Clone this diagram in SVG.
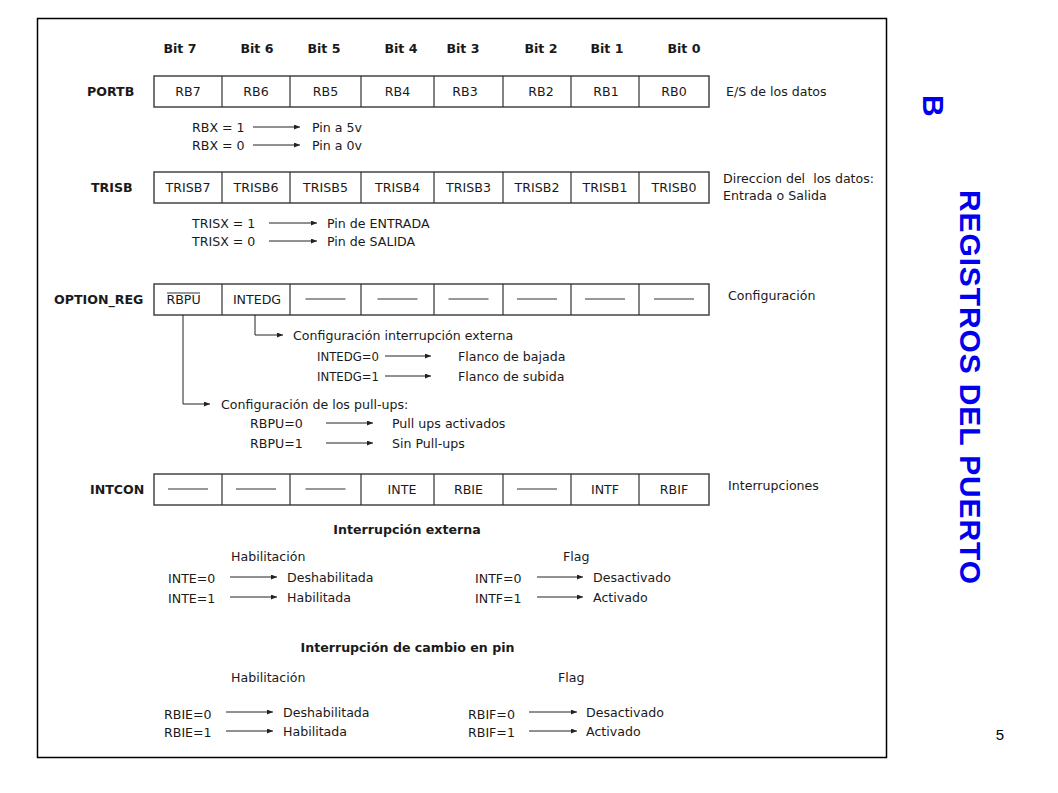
<svg xmlns="http://www.w3.org/2000/svg" width="1058" height="793" viewBox="0 0 1058 793">
<style>
text{font-family:"DejaVu Sans","Liberation Sans",sans-serif;font-size:12.6px;fill:#1a1a1a}
.b{font-weight:bold}
.c{text-anchor:middle}
.cell{fill:#fff;stroke:#444;stroke-width:1.5}
.dash{stroke:#333;stroke-width:1.2}
.arr{stroke:#222;stroke-width:1;fill:none;marker-end:url(#ah)}
.title{font-family:"Liberation Sans",Arial,sans-serif;font-weight:bold;font-size:30px;fill:#0000ee}
</style>
<defs>
<marker id="ah" markerUnits="userSpaceOnUse" markerWidth="6" markerHeight="5" refX="6" refY="2.5" orient="auto">
<path d="M0,0 L6,2.5 L0,5 z" fill="#222"/>
</marker>
</defs>
<rect width="1058" height="793" fill="#fff"/>
<rect id="frame" x="37.5" y="18.5" width="849" height="739" fill="none" stroke="#000" stroke-width="1.5"/>

<g id="bits">
<text class="b c" x="180" y="52.5">Bit 7</text>
<text class="b c" x="257" y="52.5">Bit 6</text>
<text class="b c" x="324" y="52.5">Bit 5</text>
<text class="b c" x="401" y="52.5">Bit 4</text>
<text class="b c" x="463" y="52.5">Bit 3</text>
<text class="b c" x="541" y="52.5">Bit 2</text>
<text class="b c" x="607" y="52.5">Bit 1</text>
<text class="b c" x="684" y="52.5">Bit 0</text>
</g>

<g id="portb">
<text class="b" x="87" y="96">PORTB</text>
<rect class="cell" x="154" y="76" width="555" height="31"/>
<path class="dash" d="M222,76V107M290,76V107M361,76V107M434,76V107M503,76V107M571,76V107M639,76V107"/>
<text class="c" x="188" y="96">RB7</text>
<text class="c" x="256" y="96">RB6</text>
<text class="c" x="325.5" y="96">RB5</text>
<text class="c" x="397.5" y="96">RB4</text>
<text class="c" x="465" y="96">RB3</text>
<text class="c" x="541" y="96">RB2</text>
<text class="c" x="606" y="96">RB1</text>
<text class="c" x="674" y="96">RB0</text>
<text x="726" y="96">E/S de los datos</text>
<text x="192" y="131.5">RBX = 1</text>
<text x="192" y="149.5">RBX = 0</text>
<text x="312" y="131.5">Pin a 5v</text>
<text x="312" y="149.5">Pin a 0v</text>
</g>

<g id="trisb">
<text class="b" x="91" y="192">TRISB</text>
<rect class="cell" x="154" y="172" width="555" height="31"/>
<path class="dash" d="M222,172V203M290,172V203M361,172V203M434,172V203M503,172V203M571,172V203M639,172V203"/>
<text class="c" x="188" y="192">TRISB7</text>
<text class="c" x="256" y="192">TRISB6</text>
<text class="c" x="325.5" y="192">TRISB5</text>
<text class="c" x="397.5" y="192">TRISB4</text>
<text class="c" x="468.5" y="192">TRISB3</text>
<text class="c" x="537" y="192">TRISB2</text>
<text class="c" x="605" y="192">TRISB1</text>
<text class="c" x="674" y="192">TRISB0</text>
<text x="723" y="182.5">Direccion del&#160; los datos:</text>
<text x="723" y="199.5">Entrada o Salida</text>
<text x="192" y="227.5">TRISX = 1</text>
<text x="192" y="245.5">TRISX = 0</text>
<text x="327" y="227.5">Pin de ENTRADA</text>
<text x="327" y="245.5">Pin de SALIDA</text>
</g>

<g id="option_reg">
<text class="b" x="54" y="304">OPTION_REG</text>
<rect class="cell" x="154" y="284" width="555" height="31"/>
<path class="dash" d="M222,284V315M290,284V315M361,284V315M434,284V315M503,284V315M571,284V315M639,284V315"/>
<text class="c" x="183.5" y="304">RBPU</text>
<line class="dash" x1="167" y1="293" x2="200" y2="293" stroke-width="1"/>
<text class="c" x="257" y="304">INTEDG</text>
<path class="dash" d="M305.5,299h40M377.5,299h40M448.5,299h40M517,299h40M585,299h40M654,299h40"/>
<text x="728" y="300">Configuración</text>
<text x="293" y="339.5">Configuración interrupción externa</text>
<text x="317" y="360.5" textLength="62" lengthAdjust="spacingAndGlyphs">INTEDG=0</text>
<text x="317" y="380.5" textLength="62" lengthAdjust="spacingAndGlyphs">INTEDG=1</text>
<text x="458" y="360.5">Flanco de bajada</text>
<text x="458" y="380.5">Flanco de subida</text>
<text x="221" y="408.5">Configuración de los pull-ups:</text>
<text x="250" y="427.5">RBPU=0</text>
<text x="250" y="447.5">RBPU=1</text>
<text x="392" y="427.5">Pull ups activados</text>
<text x="392" y="447.5">Sin Pull-ups</text>
</g>

<g id="intcon">
<text class="b" x="90" y="494">INTCON</text>
<rect class="cell" x="154" y="474" width="555" height="31"/>
<path class="dash" d="M222,474V505M290,474V505M361,474V505M434,474V505M503,474V505M571,474V505M639,474V505"/>
<path class="dash" d="M168,489h40M236,489h40M305.5,489h40M517,489h40"/>
<text class="c" x="402" y="494">INTE</text>
<text class="c" x="468.5" y="494">RBIE</text>
<text class="c" x="605" y="494">INTF</text>
<text class="c" x="674" y="494">RBIF</text>
<text x="728" y="490">Interrupciones</text>
</g>

<g id="ext_int">
<text class="b c" x="407" y="533.5">Interrupción externa</text>
<text x="231" y="560.5">Habilitación</text>
<text x="563" y="560.5">Flag</text>
<text x="168" y="582.5">INTE=0</text>
<text x="168" y="602.5">INTE=1</text>
<text x="287" y="581.5">Deshabilitada</text>
<text x="287" y="601.5">Habilitada</text>
<text x="475" y="582.5">INTF=0</text>
<text x="475" y="602.5">INTF=1</text>
<text x="593" y="581.5">Desactivado</text>
<text x="593" y="601.5">Activado</text>
</g>

<g id="pin_int">
<text class="b c" x="407.5" y="651.5">Interrupción de cambio en pin</text>
<text x="231" y="681.5">Habilitación</text>
<text x="558" y="681.5">Flag</text>
<text x="164" y="718.5">RBIE=0</text>
<text x="164" y="736.5">RBIE=1</text>
<text x="283" y="716.5">Deshabilitada</text>
<text x="283" y="735.5">Habilitada</text>
<text x="468" y="718.5">RBIF=0</text>
<text x="468" y="736.5">RBIF=1</text>
<text x="586" y="716.5">Desactivado</text>
<text x="586" y="735.5">Activado</text>
</g>

<g id="connectors">
<path class="arr" d="M253,127H300"/>
<path class="arr" d="M253,145H300"/>
<path class="arr" d="M269,223H317"/>
<path class="arr" d="M269,241H317"/>
<path class="arr" d="M255,315V335H283"/>
<path class="arr" d="M385,356H431"/>
<path class="arr" d="M385,376H431"/>
<path class="arr" d="M183,315V404H210"/>
<path class="arr" d="M326,423H373"/>
<path class="arr" d="M326,443H373"/>
<path class="arr" d="M230,577H277"/>
<path class="arr" d="M230,597H277"/>
<path class="arr" d="M537,577H583"/>
<path class="arr" d="M537,597H583"/>
<path class="arr" d="M226,712H273"/>
<path class="arr" d="M226,731H273"/>
<path class="arr" d="M529,712H577"/>
<path class="arr" d="M529,731H577"/>
</g>

<g id="title">
<text class="title" transform="translate(960,190) rotate(90)" textLength="394" lengthAdjust="spacing">REGISTROS DEL PUERTO</text>
<text class="title" transform="translate(923,95) rotate(90)">B</text>
</g>
<text id="page" x="1000" y="739.5" style="font-family:'Liberation Sans',Arial,sans-serif;font-size:15px;text-anchor:middle;fill:#000">5</text>
</svg>
